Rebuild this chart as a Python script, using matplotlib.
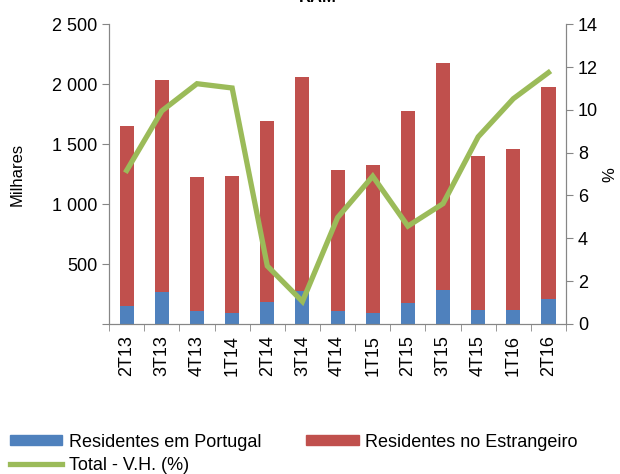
import numpy as np
from matplotlib import pyplot as plt
from matplotlib.lines import Line2D
from matplotlib.patches import Patch

plt.rcParams['font.family'] = ['Liberation Sans', 'DejaVu Sans']

quarters = ['2T13', '3T13', '4T13', '1T14', '2T14', '3T14', '4T14',
            '1T15', '2T15', '3T15', '4T15', '1T16', '2T16']
totals = [1650, 2033, 1225, 1233, 1692, 2058, 1283, 1325, 1775, 2175, 1400, 1458, 1975]
portugal = [150, 264, 106, 92, 181, 275, 106, 92, 172, 281, 119, 119, 208]
estrangeiro = [t - p for t, p in zip(totals, portugal)]
vh_total = [7.17, 9.95, 11.22, 11.02, 2.71, 1.05, 4.97, 6.9, 4.57, 5.62, 8.74, 10.52, 11.74]

blue = '#4F81BD'
red = '#C0504D'
green = '#9BBB59'
grey = '#868686'


def main():
    fig = plt.figure(figsize=(6.2, 4.74), dpi=100)
    ax = fig.add_axes([0.176, 0.3165, 0.737, 0.6325])
    x = np.arange(len(quarters))

    ax.bar(x, portugal, width=0.4, color=blue)
    ax.bar(x, estrangeiro, width=0.4, bottom=portugal, color=red)
    ax.set_xlim(-0.5, len(quarters) - 0.5)
    ax.set_ylim(0, 2500)
    ax.set_yticks([0, 500, 1000, 1500, 2000, 2500])
    ax.set_yticklabels(['', '500', '1 000', '1 500', '2 000', '2 500'], fontsize=13)
    ax.set_ylabel('Milhares', fontsize=12, labelpad=20)

    ax.set_xticks(x)
    ax.set_xticklabels(quarters, rotation=90, fontsize=13)
    ax.tick_params(axis='x', length=0, pad=8)
    ax.set_xticks(np.arange(-0.5, len(quarters)), minor=True)
    ax.tick_params(axis='x', which='minor', length=5, color=grey)
    ax.tick_params(axis='y', length=5, color=grey)

    ax2 = ax.twinx()
    ax2.plot(x, vh_total, color=green, linewidth=3.8, solid_joinstyle='miter')
    ax2.set_ylim(0, 14)
    ax2.set_yticks(range(0, 15, 2))
    ax2.tick_params(axis='y', length=5, color=grey, labelsize=13)
    ax2.set_ylabel('%', fontsize=12, labelpad=3)

    for a in (ax, ax2):
        a.spines['top'].set_visible(False)
        for s in ('left', 'right', 'bottom'):
            a.spines[s].set_color(grey)

    fig.text(0.513, 1 - 5 / 474, 'RAM', fontsize=12, fontweight='bold', ha='center', va='bottom')

    handles = [Patch(color=blue), Line2D([], [], color=green, linewidth=3.8), Patch(color=red)]
    labels = ['Residentes em Portugal', 'Total - V.H. (%)', 'Residentes no Estrangeiro']
    fig.legend(handles, labels, ncol=2, loc='upper left', bbox_to_anchor=(0.016, 0.085),
               frameon=False, fontsize=13, handlelength=2.9, handleheight=0.45,
               handletextpad=0.35, columnspacing=2.5, labelspacing=0.35, borderaxespad=0,
               borderpad=0)

    fig.savefig('out.png', dpi=100)


if __name__ == '__main__':
    main()
